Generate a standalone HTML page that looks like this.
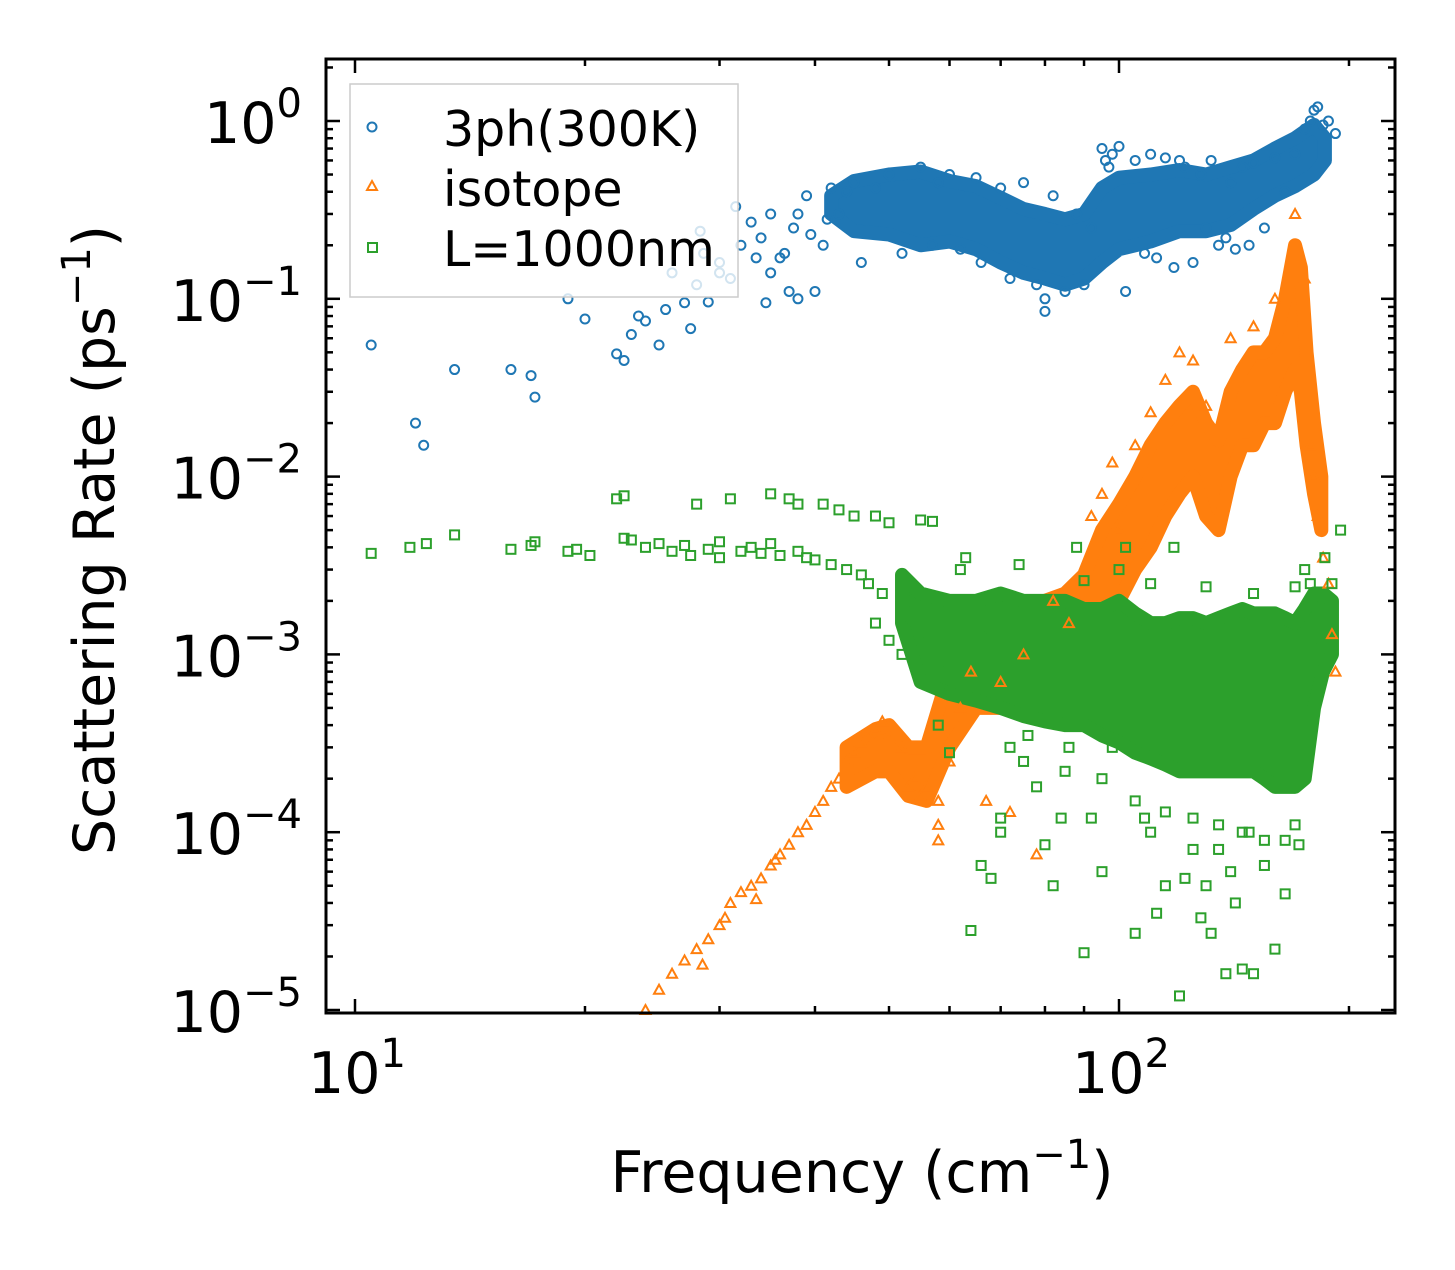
<!DOCTYPE html>
<html><head><meta charset="utf-8">
<style>
body{margin:0;background:#fff;}
svg text{font-family:"DejaVu Sans","Liberation Sans",sans-serif;fill:#000;}
</style></head>
<body>
<svg id="chart" width="1455" height="1265" viewBox="0 0 1455 1265" xmlns="http://www.w3.org/2000/svg">
<g id="bands"></g>
<g id="marks"></g>
<g id="axes"></g>
<g id="legend">
<rect x="350" y="84" width="388" height="213" fill="#fff" fill-opacity="0.8" stroke="#ccc" stroke-width="1.5"/>
<circle cx="372" cy="127" r="4.5" fill="none" stroke="#1f77b4" stroke-width="2"/>
<text x="443" y="146" font-size="49">3ph(300K)</text>
<polygon points="372,181 377,190 367,190" fill="none" stroke="#ff7f0e" stroke-width="2"/>
<text x="443" y="206" font-size="49">isotope</text>
<rect x="368" y="243" width="9" height="9" fill="none" stroke="#2ca02c" stroke-width="2"/>
<text x="443" y="266" font-size="49">L=1000nm</text>
</g>
<text x="862" y="1192" font-size="57" text-anchor="middle">Frequency (cm<tspan dy="-24" font-size="40">−1</tspan><tspan dy="24">)</tspan></text>
<text transform="translate(114,540) rotate(-90)" font-size="57" text-anchor="middle">Scattering Rate (ps<tspan dy="-24" font-size="40">−1</tspan><tspan dy="24">)</tspan></text>
</svg>
<script>
// ---- data ----
const blueFreq=[10.5,12,12.3,13.5,16,17,17.2,19,20,22,22.5,23,23.5,24,25,25.5,26,27,27.5,28,28.3,28.6,29,30,30,31,31.5,32,33,33.5,34,34.5,35,35,36,36.5,37,37.5,38,38,39,39.5,40,41,41.5,42,43,44,45,46,48,50,52,55,57,58,60,62,65,66,70,72,75,78,80,80,82,85,88,90,92,95,96,97,98,100,102,105,108,110,112,115,118,120,122,125,128,130,132,135,138,140,142,145,148,150,155,160,165,170,175,178,180,182,185,188,192];
const blueRate=[0.055,0.02,0.015,0.04,0.04,0.037,0.028,0.1,0.077,0.049,0.045,0.063,0.08,0.075,0.055,0.087,0.14,0.095,0.068,0.12,0.24,0.18,0.096,0.14,0.16,0.13,0.33,0.2,0.27,0.17,0.22,0.095,0.14,0.3,0.17,0.18,0.11,0.25,0.3,0.1,0.38,0.23,0.11,0.2,0.28,0.42,0.3,0.4,0.45,0.16,0.42,0.5,0.18,0.55,0.2,0.45,0.5,0.19,0.48,0.16,0.42,0.13,0.45,0.12,0.085,0.1,0.38,0.11,0.3,0.12,0.25,0.7,0.6,0.55,0.65,0.72,0.11,0.6,0.18,0.65,0.17,0.62,0.15,0.6,0.55,0.16,0.5,0.25,0.6,0.2,0.22,0.45,0.19,0.55,0.2,0.58,0.25,0.62,0.4,0.65,0.9,1.0,1.15,1.2,0.95,1.0,0.85];
const blueBandFreq=[42,45,50,55,60,65,70,75,80,85,90,95,100,110,120,130,140,150,160,170,180,186];
const blueBandLow=[0.3,0.24,0.23,0.2,0.21,0.19,0.16,0.14,0.13,0.12,0.13,0.16,0.19,0.21,0.24,0.24,0.26,0.32,0.38,0.43,0.5,0.6];
const blueBandHigh=[0.38,0.46,0.5,0.52,0.46,0.43,0.37,0.32,0.3,0.28,0.3,0.42,0.48,0.5,0.53,0.5,0.55,0.6,0.7,0.8,0.95,0.8];

const isoFreq=[24,25,26,27,28,28.5,29,30,30.5,31,32,33,33.5,34,35,35.5,36,37,38,39,40,41,42,43,44,45,46,47,48,49,50,52,53,54,55,56,58,58,58,60,62,64,67,70,72,75,78,82,86,92,95,98,100,105,110,115,120,125,130,140,150,160,170,175,178,180,182,185,188,190,192];
const isoRate=[1e-5,1.3e-5,1.6e-5,1.9e-5,2.2e-5,1.8e-5,2.5e-5,3e-5,3.3e-5,4e-5,4.6e-5,5e-5,4.2e-5,5.5e-5,6.5e-5,7e-5,7.5e-5,8.5e-5,1e-4,1.1e-4,1.3e-4,1.5e-4,1.8e-4,2e-4,2.5e-4,2.8e-4,3.2e-4,3.5e-4,3.8e-4,4.2e-4,3.5e-4,3e-4,1.8e-4,2e-4,1.6e-4,1.8e-4,1.5e-4,1.1e-4,9e-5,2.5e-4,5e-4,8e-4,1.5e-4,7e-4,1.3e-4,1e-3,7.5e-5,2e-3,1.5e-3,6e-3,8e-3,1.2e-2,5e-3,1.5e-2,2.3e-2,3.5e-2,5e-2,4.5e-2,2.5e-2,6e-2,7e-2,1e-1,3e-1,1.3e-1,1.5e-2,1e-2,6e-3,3.5e-3,2.5e-3,1.3e-3,8e-4];
const isoBandFreq=[44,48,50,53,56,60,65,70,75,80,85,90,95,100,105,110,115,120,125,130,135,140,145,150,155,160,165,170,173,176,180,184];
const isoBandLow=[1.8e-4,2.2e-4,2.2e-4,1.6e-4,1.5e-4,3e-4,5e-4,5e-4,6e-4,7e-4,8e-4,1e-3,1.5e-3,2e-3,3e-3,4e-3,6e-3,8e-3,1e-2,6e-3,5e-3,1e-2,1.5e-2,1.5e-2,2e-2,2e-2,3e-2,4e-2,3e-2,1.5e-2,8e-3,5e-3];
const isoBandHigh=[3e-4,3.8e-4,4e-4,3e-4,3e-4,8e-4,1.2e-3,1.3e-3,1.6e-3,2e-3,2.2e-3,2.8e-3,5e-3,7e-3,1e-2,1.5e-2,2e-2,2.5e-2,3e-2,2e-2,1.6e-2,3e-2,4e-2,5e-2,5e-2,6e-2,1e-1,2e-1,1.5e-1,5e-2,2e-2,1e-2];

const grnFreq=[10.5,11.8,12.4,13.5,16,17,17.2,19,19.5,20.3,22,22.5,22.5,23,24,25,26,27,27.5,28,29,30,30,31,32,33,34,35,35,36,37,38,38,39,40,41,42,43,44,45,46,47,48,48,49,50,50,52,52,54,55,56,57,58,58,60,60,62,63,64,66,68,70,72,74,76,78,80,82,84,86,88,90,92,95,98,100,102,105,108,110,112,115,118,120,122,125,128,130,132,135,138,140,142,145,148,150,155,160,165,170,172,175,178,180,183,186,190,195,66,75,85,95,105,115,125,135,145,155,165,70,90,110,130,150,170];
const grnRate=[3.7e-3,4e-3,4.2e-3,4.7e-3,3.9e-3,4.1e-3,4.3e-3,3.8e-3,3.9e-3,3.6e-3,7.5e-3,7.8e-3,4.5e-3,4.4e-3,4e-3,4.2e-3,3.8e-3,4.1e-3,3.6e-3,7e-3,3.9e-3,4.3e-3,3.5e-3,7.5e-3,3.8e-3,4e-3,3.7e-3,8e-3,4.2e-3,3.6e-3,7.5e-3,3.8e-3,7e-3,3.5e-3,3.4e-3,7e-3,3.2e-3,6.5e-3,3e-3,6e-3,2.8e-3,2.5e-3,6e-3,1.5e-3,2.2e-3,5.5e-3,1.2e-3,1.6e-3,1e-3,2e-3,5.7e-3,1.3e-3,5.6e-3,4e-4,8e-4,2.8e-4,6e-4,3e-3,3.5e-3,2.8e-5,6.5e-5,5.5e-5,1.2e-4,3e-4,3.2e-3,3.5e-4,1.8e-4,8.5e-5,5e-5,1.2e-4,3e-4,4e-3,2.1e-5,1.2e-4,6e-5,3e-4,3e-3,4e-3,2.7e-5,1.2e-4,1e-4,3.5e-5,5e-5,4e-3,1.2e-5,5.5e-5,8e-5,3.3e-5,5e-5,2.7e-5,8e-5,1.6e-5,6e-5,4e-5,1.7e-5,1e-4,1.6e-5,6.5e-5,2.2e-5,4.5e-5,1.1e-4,8.5e-5,3e-3,2.5e-3,1.8e-3,1.2e-3,3.5e-3,2.5e-3,5e-3,1.4e-3,2.5e-4,2.2e-4,2e-4,1.5e-4,1.3e-4,1.2e-4,1.1e-4,1e-4,9e-5,9e-5,1e-4,2.6e-3,2.5e-3,2.4e-3,2.2e-3,2.4e-3,2.2e-3];
const grnBandFreq=[52,55,60,65,70,75,80,85,90,95,100,105,110,115,120,125,130,135,140,145,150,155,160,165,170,175,180,185,190];
const grnBandLow=[1.5e-3,7e-4,6e-4,5.5e-4,5e-4,4.5e-4,4.2e-4,4e-4,4e-4,3.5e-4,3.2e-4,2.8e-4,2.6e-4,2.4e-4,2.2e-4,2.2e-4,2.2e-4,2.2e-4,2.2e-4,2.2e-4,2.2e-4,2e-4,1.8e-4,1.8e-4,1.8e-4,2e-4,5e-4,8e-4,1e-3];
const grnBandHigh=[2.8e-3,2.2e-3,2e-3,2e-3,2.2e-3,2e-3,2e-3,2e-3,1.8e-3,1.8e-3,2e-3,1.7e-3,1.5e-3,1.5e-3,1.6e-3,1.6e-3,1.5e-3,1.6e-3,1.7e-3,1.8e-3,1.7e-3,1.7e-3,1.7e-3,1.6e-3,1.5e-3,1.8e-3,2.2e-3,2.2e-3,2e-3];

const yTickExp=[0,-1,-2,-3,-4,-5];
const xTickExp=[1,2];

// ---- scales ----
const X0=326,X1=1395,Y0=59,Y1=1013;
function sx(f){return 355+764*(Math.log10(f)-1);}
function sy(v){return 121-177.8*Math.log10(v);}
const NS="http://www.w3.org/2000/svg";
function mk(tag,parent,attrs){const e=document.createElementNS(NS,tag);for(const k in attrs)e.setAttribute(k,attrs[k]);parent.appendChild(e);return e;}

const bands=document.getElementById('bands'),marks=document.getElementById('marks'),axes=document.getElementById('axes');
function band(fr,lo,hi,col,name){
  const pts=fr.map((f,i)=>sx(f)+','+sy(hi[i])).concat(fr.map((f,i)=>sx(f)+','+sy(lo[i])).reverse());
  const p=mk('polygon',bands,{points:pts.join(' '),fill:col,stroke:col,'stroke-width':14,'stroke-linejoin':'round'});
  
  
}
function drawBlue(){
  blueFreq.forEach((f,i)=>{const c=mk('circle',marks,{cx:sx(f),cy:sy(blueRate[i]),r:4.5,fill:'none',stroke:'#1f77b4','stroke-width':2});
  
  });
}
function drawIso(){
  isoFreq.forEach((f,i)=>{const x=sx(f),y=sy(isoRate[i]);const t=mk('polygon',marks,{points:`${x},${y-5} ${x+5},${y+4} ${x-5},${y+4}`,fill:'none',stroke:'#ff7f0e','stroke-width':2});
  
  });
}
function drawGrn(){
  grnFreq.forEach((f,i)=>{const s=mk('rect',marks,{x:sx(f)-4.5,y:sy(grnRate[i])-4.5,width:9,height:9,fill:'none',stroke:'#2ca02c','stroke-width':2});
  
  });
}
band(blueBandFreq,blueBandLow,blueBandHigh,'#1f77b4','band-3ph');
band(isoBandFreq,isoBandLow,isoBandHigh,'#ff7f0e','band-isotope');
drawBlue();drawIso();
band(grnBandFreq,grnBandLow,grnBandHigh,'#2ca02c','band-boundary');
drawGrn();

// ---- axes ----
const frame=mk('rect',axes,{x:X0,y:Y0,width:X1-X0,height:Y1-Y0,fill:'none',stroke:'#000','stroke-width':3});


for(let d=0;d<=2;d++){for(let m=1;m<=9;m++){const f=m*Math.pow(10,d);const x=sx(f);if(x<X0||x>X1)continue;const L=m===1?14:7;
  mk('line',axes,{x1:x,x2:x,y1:Y1,y2:Y1-L,stroke:'#000','stroke-width':2.5});
  mk('line',axes,{x1:x,x2:x,y1:Y0,y2:Y0+L,stroke:'#000','stroke-width':2.5});}}
for(let d=-6;d<=0;d++){for(let m=1;m<=9;m++){const v=m*Math.pow(10,d);const y=sy(v);if(y<Y0||y>Y1)continue;const L=m===1?14:7;
  mk('line',axes,{x1:X0,x2:X0+L,y1:y,y2:y,stroke:'#000','stroke-width':2.5});
  mk('line',axes,{x1:X1,x2:X1-L,y1:y,y2:y,stroke:'#000','stroke-width':2.5});}}
yTickExp.forEach(e=>{const t=mk('text',axes,{x:302,y:sy(Math.pow(10,e))+22,'font-size':57,'text-anchor':'end'});
  
  
  t.textContent='10';const s=mk('tspan',t,{dy:-26,'font-size':40});s.textContent=e<0?'−'+(-e):String(e);});
xTickExp.forEach(e=>{const t=mk('text',axes,{x:sx(Math.pow(10,e))+2,y:1093,'font-size':57,'text-anchor':'middle'});
  
  
  t.textContent='10';const s=mk('tspan',t,{dy:-26,'font-size':40});s.textContent=String(e);});
</script>
</body></html>
